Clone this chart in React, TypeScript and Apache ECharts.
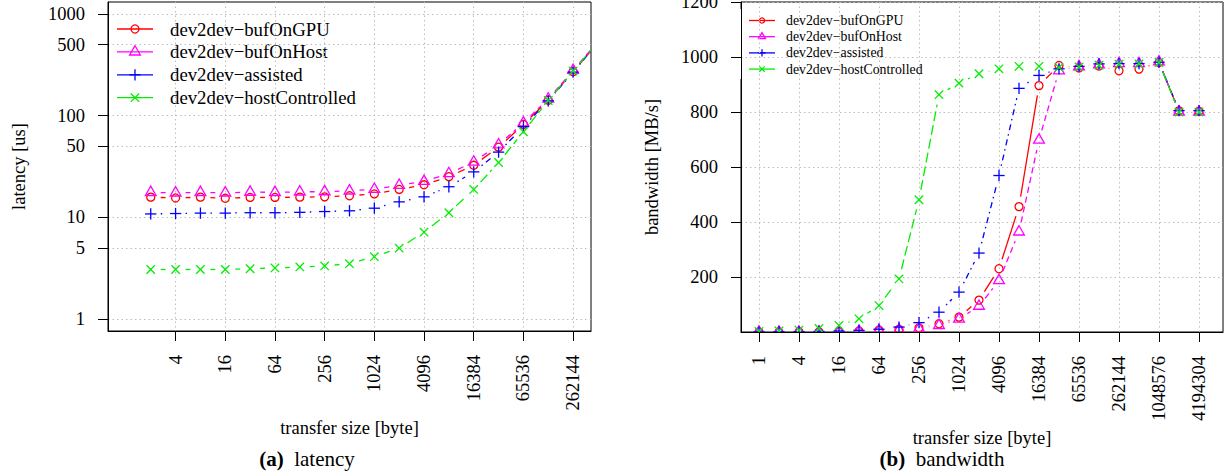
import React, { useEffect, useRef } from 'react';
import * as echarts from 'echarts';

// ---------------- data ----------------
const SERIES_NAMES = ['dev2dev\u2212bufOnGPU', 'dev2dev\u2212bufOnHost', 'dev2dev\u2212assisted', 'dev2dev\u2212hostControlled'];
const COLORS = ['#ff0000', '#ff00ff', '#0000ff', '#00ee00'];
const MARKERS = ['circle', 'triangle', 'plus', 'cross'];
const DASHES: (number[] | null)[] = [null, [6, 4], [1.5, 4, 6, 4], [10, 4]];

// (a) latency [us] vs transfer size [byte]
const LAT_SIZES = [2, 4, 8, 16, 32, 64, 128, 256, 512, 1024, 2048, 4096, 8192, 16384, 32768, 65536, 131072, 262144, 524288];
const LAT_GPU = [15.8, 15.5, 15.8, 15.4, 15.7, 15.7, 15.8, 15.9, 16.3, 17.0, 18.8, 20.9, 25.1, 32.5, 49.0, 82, 142, 271, 525];
const LAT_HOST = [17.6, 17.4, 17.6, 17.4, 17.7, 17.6, 17.8, 17.9, 18.2, 18.9, 20.7, 22.6, 27.0, 35.0, 51.8, 85, 146, 279, 535];
const LAT_ASSISTED = [10.8, 10.9, 11.0, 11.0, 11.1, 11.1, 11.2, 11.4, 11.6, 12.3, 14.2, 15.9, 20.0, 28.0, 43.8, 78, 140, 268, 525];
const LAT_HOSTCTRL = [3.07, 3.07, 3.07, 3.07, 3.12, 3.18, 3.25, 3.33, 3.5, 4.1, 4.97, 7.15, 11.1, 18.8, 34.6, 69.5, 141, 275, 530];
const LAT_X_TICKS = [4, 16, 64, 256, 1024, 4096, 16384, 65536, 262144];
const LAT_Y_TICKS = [1, 5, 10, 50, 100, 500, 1000];

// (b) bandwidth [MB/s] vs transfer size [byte]
const BW_SIZES = [1, 2, 4, 8, 16, 32, 64, 128, 256, 512, 1024, 2048, 4096, 8192, 16384, 32768, 65536, 131072, 262144, 524288, 1048576, 2097152, 4194304];
const BW_GPU = [0.1, 0.2, 0.4, 0.8, 1.7, 3.4, 7, 10, 15, 30, 54, 116, 230, 456, 896, 969, 960, 967, 950, 956, 980, 804, 803];
const BW_HOST = [0.1, 0.2, 0.3, 0.6, 1.2, 2.5, 5, 8, 12, 24, 47, 94, 187, 364, 698, 950, 965, 972, 976, 976, 983, 800, 800];
const BW_ASSISTED = [0.5, 0.8, 1.3, 2, 3.5, 6, 10, 18, 34, 72, 145, 287, 569, 886, 933, 957, 966, 975, 976, 976, 981, 805, 805];
const BW_HOSTCTRL = [2, 4, 7, 13, 24, 48, 96, 193, 481, 863, 905, 939, 957, 966, 966, 962, 964, 970, 974, 975, 980, 800, 800];
const BW_X_TICKS = [1, 4, 16, 64, 256, 1024, 4096, 16384, 65536, 262144, 1048576, 4194304];
const BW_Y_TICKS = [200, 400, 600, 800, 1000, 1200];

// ---------------- layout / style ----------------
const FONT = 'Liberation Serif';
const AX_FS = 18.5;
const LW = 1.3;
const GAP = 10;
const GRID_COLOR = '#bdbdbd';

const G0 = { left: 108, top: 2, width: 483, height: 329 };
const G1 = { left: 741, top: 2, width: 482, height: 330 };

type Pt = [number, number];

function markerEls(kind: string, x: number, y: number, s: number, color: string) {
  const st = { stroke: color, fill: null as any, lineWidth: LW };
  const R = 4.0 * s;
  if (kind === 'circle') {
    return [{ type: 'circle', shape: { cx: x, cy: y, r: R }, style: st }];
  }
  if (kind === 'triangle') {
    const top = 1.555 * R, bot = 0.778 * R, hw = 1.347 * R;
    return [{ type: 'polygon', shape: { points: [[x, y - top], [x - hw, y + bot], [x + hw, y + bot]] }, style: st }];
  }
  if (kind === 'plus') {
    const h = 1.414 * R;
    return [
      { type: 'line', shape: { x1: x - h, y1: y, x2: x + h, y2: y }, style: st },
      { type: 'line', shape: { x1: x, y1: y - h, x2: x, y2: y + h }, style: st },
    ];
  }
  const h = 1.05 * R;
  return [
    { type: 'line', shape: { x1: x - h, y1: y - h, x2: x + h, y2: y + h }, style: st },
    { type: 'line', shape: { x1: x - h, y1: y + h, x2: x + h, y2: y - h }, style: st },
  ];
}

function makeSeries(idx: number, data: Pt[], axisIndex: number) {
  const color = COLORS[idx];
  const dash = DASHES[idx];
  return {
    type: 'custom',
    name: SERIES_NAMES[idx],
    xAxisIndex: axisIndex,
    yAxisIndex: axisIndex,
    clip: true,
    data,
    encode: { x: 0, y: 1 },
    renderItem: (params: any, api: any) => {
      const i = params.dataIndex;
      const p = api.coord([api.value(0), api.value(1)]);
      const children: any[] = markerEls(MARKERS[idx], p[0], p[1], 1, color);
      if (i < data.length - 1) {
        const q = api.coord(data[i + 1]);
        const dx = q[0] - p[0], dy = q[1] - p[1];
        const len = Math.hypot(dx, dy);
        if (len > 2 * GAP) {
          const ux = dx / len, uy = dy / len;
          children.push({
            type: 'line',
            shape: { x1: p[0] + ux * GAP, y1: p[1] + uy * GAP, x2: q[0] - ux * GAP, y2: q[1] - uy * GAP },
            style: { stroke: color, lineWidth: LW, lineDash: dash, fill: null },
          });
        }
      }
      return { type: 'group', children };
    },
  };
}

function legendGroup(x0: number, y0: number, rowH: number, lineLen: number, textX: number, fs: number, s: number, bg: { w: number; h: number; y: number }) {
  const children: any[] = [
    { type: 'rect', shape: { x: x0 - 9, y: bg.y, width: bg.w, height: bg.h }, style: { fill: '#ffffff' } },
  ];
  SERIES_NAMES.forEach((name, i) => {
    const y = y0 + i * rowH;
    const cx = x0 + lineLen / 2;
    children.push({ type: 'line', shape: { x1: x0, y1: y, x2: x0 + lineLen, y2: y }, style: { stroke: COLORS[i], lineWidth: LW } });
    markerEls(MARKERS[i], cx, y, s, COLORS[i]).forEach((m) => children.push(m));
    children.push({
      type: 'text',
      style: { text: name, x: textX, y, fill: '#000', fontFamily: FONT, fontSize: fs, verticalAlign: 'middle', align: 'left' },
    });
  });
  return { type: 'group', z: 50, children };
}

function pow2Label(v: number) {
  return String(Math.round(Math.pow(2, v)));
}

function buildOption() {
  const toLat = (arr: number[]): Pt[] => arr.map((v, i) => [Math.log2(LAT_SIZES[i]), Math.log10(v)]);
  const toBw = (arr: number[]): Pt[] => arr.map((v, i) => [Math.log2(BW_SIZES[i]), v]);

  const textStyle = { fontFamily: FONT, fontSize: AX_FS, color: '#000' };
  const axisLine = { show: true, onZero: false, lineStyle: { color: '#000', width: 1 } };
  const splitLine = { show: true, lineStyle: { color: GRID_COLOR, width: 1, type: [1.5, 3] } };

  const latXT = LAT_X_TICKS.map((v) => Math.log2(v));
  const latYT = LAT_Y_TICKS.map((v) => Math.log10(v));
  const bwXT = BW_X_TICKS.map((v) => Math.log2(v));

  return {
    animation: false,
    backgroundColor: '#ffffff',
    textStyle: { fontFamily: FONT },
    grid: [
      { ...G0, show: true, borderColor: '#000', borderWidth: 1, containLabel: false, outerBoundsMode: 'none' },
      { ...G1, show: true, borderColor: '#000', borderWidth: 1, containLabel: false, outerBoundsMode: 'none' },
    ],
    xAxis: [
      {
        type: 'value', gridIndex: 0, min: -0.72, max: 18.72,
        name: 'transfer size [byte]', nameLocation: 'middle', nameGap: 77, nameTextStyle: textStyle,
        axisLine,
        axisTick: { show: true, length: 10, customValues: latXT, lineStyle: { color: '#000' } },
        axisLabel: { ...textStyle, rotate: 90, margin: 24, customValues: latXT, formatter: pow2Label },
        splitLine,
      },
      {
        type: 'value', gridIndex: 1, min: -0.9, max: 23.2,
        name: 'transfer size [byte]', nameLocation: 'middle', nameGap: 77, nameTextStyle: textStyle,
        axisLine,
        axisTick: { show: true, length: 10, customValues: bwXT, lineStyle: { color: '#000' } },
        axisLabel: { ...textStyle, rotate: 90, margin: 24, customValues: bwXT, formatter: pow2Label },
        splitLine,
      },
    ],
    yAxis: [
      {
        type: 'value', gridIndex: 0, min: -0.118, max: 3.118,
        name: 'latency [us]', nameLocation: 'middle', nameGap: 80, nameRotate: 90, nameTextStyle: textStyle,
        axisLine,
        axisTick: { show: true, length: 10, customValues: latYT, lineStyle: { color: '#000' } },
        axisLabel: { ...textStyle, margin: 23, customValues: latYT, formatter: (v: number) => String(Math.round(Math.pow(10, v))) },
        splitLine,
      },
      {
        type: 'value', gridIndex: 1, min: 0, max: 1200,
        name: 'bandwidth [MB/s]', nameLocation: 'middle', nameGap: 80, nameRotate: 90, nameTextStyle: textStyle,
        axisLine,
        axisTick: { show: true, length: 10, customValues: BW_Y_TICKS, lineStyle: { color: '#000' } },
        axisLabel: { ...textStyle, margin: 23, customValues: BW_Y_TICKS, formatter: (v: number) => String(v) },
        splitLine,
      },
    ],
    series: [
      makeSeries(0, toLat(LAT_GPU), 0),
      makeSeries(1, toLat(LAT_HOST), 0),
      makeSeries(2, toLat(LAT_ASSISTED), 0),
      makeSeries(3, toLat(LAT_HOSTCTRL), 0),
      makeSeries(0, toBw(BW_GPU), 1),
      makeSeries(1, toBw(BW_HOST), 1),
      makeSeries(2, toBw(BW_ASSISTED), 1),
      makeSeries(3, toBw(BW_HOSTCTRL), 1),
    ],
    graphic: [
      legendGroup(117, 29, 22.9, 36, 170, 18.8, 1, { y: 16, h: 96, w: 256 }),
      legendGroup(749, 20.5, 16.2, 26, 786, 13.8, 0.65, { y: 9, h: 70, w: 190 }),
      {
        type: 'text', z: 50,
        style: {
          text: '{b|(a)}  latency', x: 307, y: 459, align: 'center', verticalAlign: 'middle',
          fontFamily: FONT, fontSize: 21, fill: '#000',
          rich: { b: { fontWeight: 'bold', fontFamily: FONT, fontSize: 21 } },
        },
      },
      {
        type: 'text', z: 50,
        style: {
          text: '{b|(b)}  bandwidth', x: 942, y: 459, align: 'center', verticalAlign: 'middle',
          fontFamily: FONT, fontSize: 21, fill: '#000',
          rich: { b: { fontWeight: 'bold', fontFamily: FONT, fontSize: 21 } },
        },
      },
    ],
  };
}

export default function App() {
  const ref = useRef<HTMLDivElement>(null);
  useEffect(() => {
    if (!ref.current) return;
    const chart = echarts.init(ref.current, undefined, { renderer: 'svg' });
    chart.setOption(buildOption() as any);
    return () => chart.dispose();
  }, []);
  return (
    <div
      ref={ref}
      style={{ position: 'fixed', left: 0, top: 0, width: 1228, height: 473, background: '#ffffff' }}
    />
  );
}
